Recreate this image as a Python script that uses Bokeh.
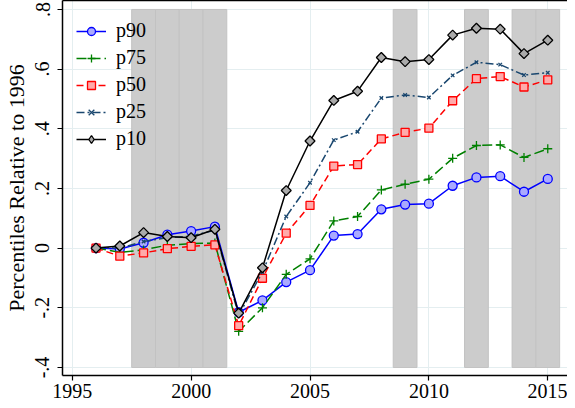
import math
from bokeh.plotting import figure
from bokeh.models import FixedTicker, LinearAxis, Legend, LegendItem
from bokeh.embed import file_html
from bokeh.resources import INLINE

years = list(range(1996, 2016))
p90 = [0, -0.003, 0.018, 0.045, 0.057, 0.072, -0.215, -0.175, -0.114, -0.074, 0.042, 0.047, 0.130, 0.146, 0.149, 0.209, 0.237, 0.241, 0.189, 0.232]
p75 = [0, -0.014, -0.006, 0.010, 0.015, 0.017, -0.279, -0.200, -0.088, -0.036, 0.091, 0.106, 0.195, 0.214, 0.231, 0.301, 0.344, 0.346, 0.304, 0.333]
p50 = [0, -0.027, -0.016, -0.002, 0.006, 0.011, -0.260, -0.101, 0.050, 0.143, 0.275, 0.280, 0.366, 0.388, 0.402, 0.494, 0.568, 0.575, 0.540, 0.564]
p25 = [0, 0.000, 0.022, 0.035, 0.040, 0.060, -0.225, -0.080, 0.106, 0.219, 0.362, 0.390, 0.503, 0.513, 0.505, 0.579, 0.623, 0.615, 0.580, 0.588]
p10 = [0, 0.007, 0.052, 0.039, 0.035, 0.063, -0.218, -0.066, 0.193, 0.359, 0.495, 0.526, 0.639, 0.625, 0.632, 0.714, 0.737, 0.734, 0.652, 0.697]

shaded_years = [1998, 1999, 2000, 2001, 2009, 2012, 2014, 2015]
shade_bottom = -0.4
shade_top = 0.8

x_ticks = [1995, 2000, 2005, 2010, 2015]
y_ticks = [-0.4, -0.2, 0.0, 0.2, 0.4, 0.6, 0.8]
y_tick_labels = ["-.4", "-.2", "0", ".2", ".4", ".6", ".8"]

FONT = "Liberation Serif"

p = figure(width=567, height=400, output_backend="svg", toolbar_location=None,
           x_range=(1994.59, 2015.83), y_range=(-0.427, 0.83),
           min_border_left=55, min_border_right=0, min_border_top=0, min_border_bottom=0)
p.outline_line_color = None
p.background_fill_color = "white"
p.border_fill_color = "white"

# grid
p.xgrid.ticker = FixedTicker(ticks=x_ticks)
p.ygrid.ticker = FixedTicker(ticks=y_ticks)
p.xgrid.grid_line_color = "#e4eef0"
p.ygrid.grid_line_color = "#e4eef0"
p.xgrid.grid_line_width = 1
p.ygrid.grid_line_width = 1

# axes
xa = p.xaxis[0]
xa.ticker = FixedTicker(ticks=x_ticks)
ya = p.yaxis[0]
ya.ticker = FixedTicker(ticks=y_ticks)
ya.major_label_overrides = {t: l for t, l in zip(y_ticks, y_tick_labels)}
ya.major_label_orientation = "vertical"
ya.axis_label = "Percentiles Relative to 1996"
for ax in (xa, ya):
    ax.major_label_text_font = FONT
    ax.major_label_text_font_size = "20px"
    ax.major_label_text_color = "black"
    ax.axis_line_color = "black"
    ax.axis_line_width = 1.5
    ax.major_tick_line_color = "black"
    ax.major_tick_line_width = 1.2
    ax.major_tick_out = 5
    ax.major_tick_in = 0
    ax.minor_tick_line_color = None
xa.major_label_standoff = 3
ya.major_label_standoff = 8
ya.axis_label_text_font = FONT
ya.axis_label_text_font_size = "22px"
ya.axis_label_text_font_style = "normal"
ya.axis_label_text_color = "black"
ya.axis_label_standoff = 4

top = LinearAxis(ticker=FixedTicker(ticks=[]), major_label_text_font_size="0px",
                 major_tick_line_color=None, minor_tick_line_color=None,
                 axis_line_color="black", axis_line_width=1.5)
p.add_layout(top, "above")

# shaded bars
p.quad(left=[y - 0.5 for y in shaded_years], right=[y + 0.5 for y in shaded_years],
       bottom=[shade_bottom] * len(shaded_years), top=[shade_top] * len(shaded_years),
       fill_color="#cccccc", line_color="#c2c2c2", line_width=1)

items = []

def series(vals, label, color, dash, marker, size, fill, angle=0.0, lw=1.5, legend_marker=None):
    r1 = p.line(years, vals, line_color=color, line_width=lw, line_dash=dash)
    r2 = p.scatter(years, vals, marker=marker, size=size, line_color=color,
                   fill_color=fill, line_width=1.3, angle=angle)
    rends = [r1, r2]
    if legend_marker is not None:
        # hidden twin used only for the legend (Bokeh never rotates legend markers)
        r3 = p.scatter(years, vals, marker=legend_marker, size=size, line_color=color,
                       fill_color=fill, line_width=1.3, visible=False)
        rends = [r1, r3]
    items.append(LegendItem(label=label, renderers=rends))

series(p90, "p90", "#0000ff", "solid", "circle", 9, "#aaaaff")
series(p75, "p75", "#008000", "10 4", "cross", 9, None)
series(p50, "p50", "#ff0000", "7 4", "square", 8, "#ffaaaa")
series(p25, "p25", "#1a476f", "8 3 2 3", "x", 5, None)
series(p10, "p10", "#000000", "solid", "square", 7, "#aaaaaa", angle=math.pi / 4,
       legend_marker="diamond")

leg = Legend(items=items, location=(14, 225))
leg.background_fill_alpha = 0
leg.border_line_color = None
leg.label_text_font = FONT
leg.label_text_font_size = "20px"
leg.label_text_color = "black"
leg.glyph_width = 30
leg.glyph_height = 20
leg.label_standoff = 10
leg.spacing = 4
leg.margin = 0
leg.padding = 0
leg.label_height = 20
p.add_layout(leg, "center")

open("out.html", "w").write(file_html(p, INLINE))
